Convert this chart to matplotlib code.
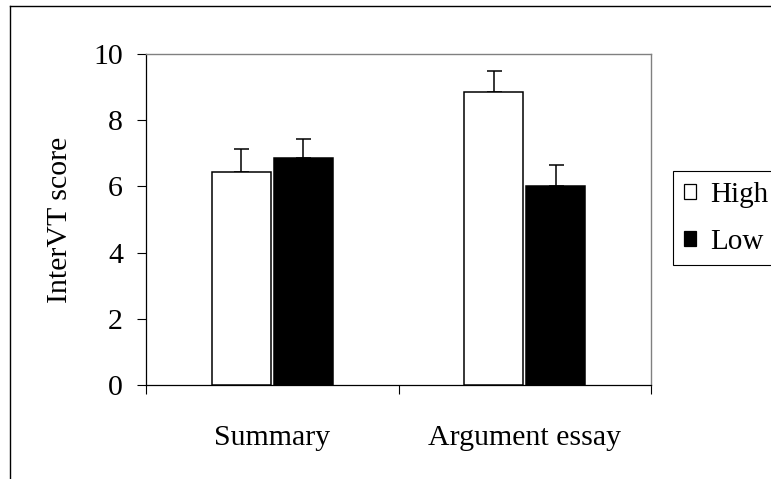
import matplotlib
matplotlib.use("Agg")
import matplotlib.pyplot as plt
import numpy as np
from matplotlib.lines import Line2D
from matplotlib.patches import Patch

categories = ["Summary", "Argument essay"]
series_names = ["High", "Low"]
high_values = [6.43, 8.84]
low_values = [6.85, 6.00]
high_err = [0.71, 0.66]
low_err = [0.59, 0.66]
y_ticks = [0, 2, 4, 6, 8, 10]

plt.rcParams['font.family'] = ['Liberation Serif', 'DejaVu Serif']

fig = plt.figure(figsize=(7.71, 4.79), dpi=100)
ax = fig.add_axes([146/771, 1-385/479, 505/771, 331/479])

x = np.arange(len(categories))
width = 0.234
off = 0.122

ax.bar(x - off, high_values, width, color="white", edgecolor="black", linewidth=1.1, zorder=3)
ax.bar(x + off, low_values, width, color="black", edgecolor="black", linewidth=1.1, zorder=3)
ax.errorbar(x - off, high_values, yerr=[np.zeros(len(x)), high_err], fmt="none",
            ecolor="black", elinewidth=1.1, capsize=5.4, capthick=1.1, zorder=2)
ax.errorbar(x + off, low_values, yerr=[np.zeros(len(x)), low_err], fmt="none",
            ecolor="black", elinewidth=1.1, capsize=5.4, capthick=1.1, zorder=2)

ax.set_xlim(-0.5, len(categories) - 0.5)
ax.set_ylim(0, 10)
ax.set_yticks(y_ticks)
ax.set_yticklabels([str(v) for v in y_ticks])
ax.set_xticks(np.arange(len(categories) + 1) - 0.5)
ax.set_xticklabels([])
ax.set_xticks(x, minor=True)
ax.set_xticklabels(categories, minor=True)
ax.tick_params(axis="x", which="minor", length=0, pad=29, labelsize=21.5)
ax.tick_params(axis="x", which="major", length=6.5, width=0.8, direction="out")
ax.tick_params(axis="y", length=6.5, width=0.8, direction="out", pad=10, labelsize=21.5)
ax.set_ylabel("InterVT score", fontsize=21.5, labelpad=15)

for s in ["left", "bottom"]:
    ax.spines[s].set_color("black")
    ax.spines[s].set_linewidth(0.9)
for s in ["top", "right"]:
    ax.spines[s].set_color("#808080")
    ax.spines[s].set_linewidth(1.0)

handles = [Patch(facecolor="white", edgecolor="black", linewidth=0.9),
           Patch(facecolor="black", edgecolor="black", linewidth=0.9)]
leg = fig.legend(handles, series_names, loc="upper left",
                 bbox_to_anchor=(673/771, 1-171/479), fontsize=21,
                 handlelength=0.42, handleheight=0.42, handletextpad=0.5,
                 labelspacing=0.73, borderpad=0.36, borderaxespad=0,
                 frameon=True, fancybox=False, shadow=False)
leg.get_frame().set_edgecolor("black")
leg.get_frame().set_linewidth(0.8)
leg.get_frame().set_alpha(None)

# outer chart border (left and top visible)
fig.add_artist(Line2D([10/771, 10/771], [0, 1-6/479], transform=fig.transFigure,
                      color="black", linewidth=1.0))
fig.add_artist(Line2D([10/771, 1], [1-6/479, 1-6/479], transform=fig.transFigure,
                      color="black", linewidth=1.0))

fig.savefig("out.png", dpi=100)
